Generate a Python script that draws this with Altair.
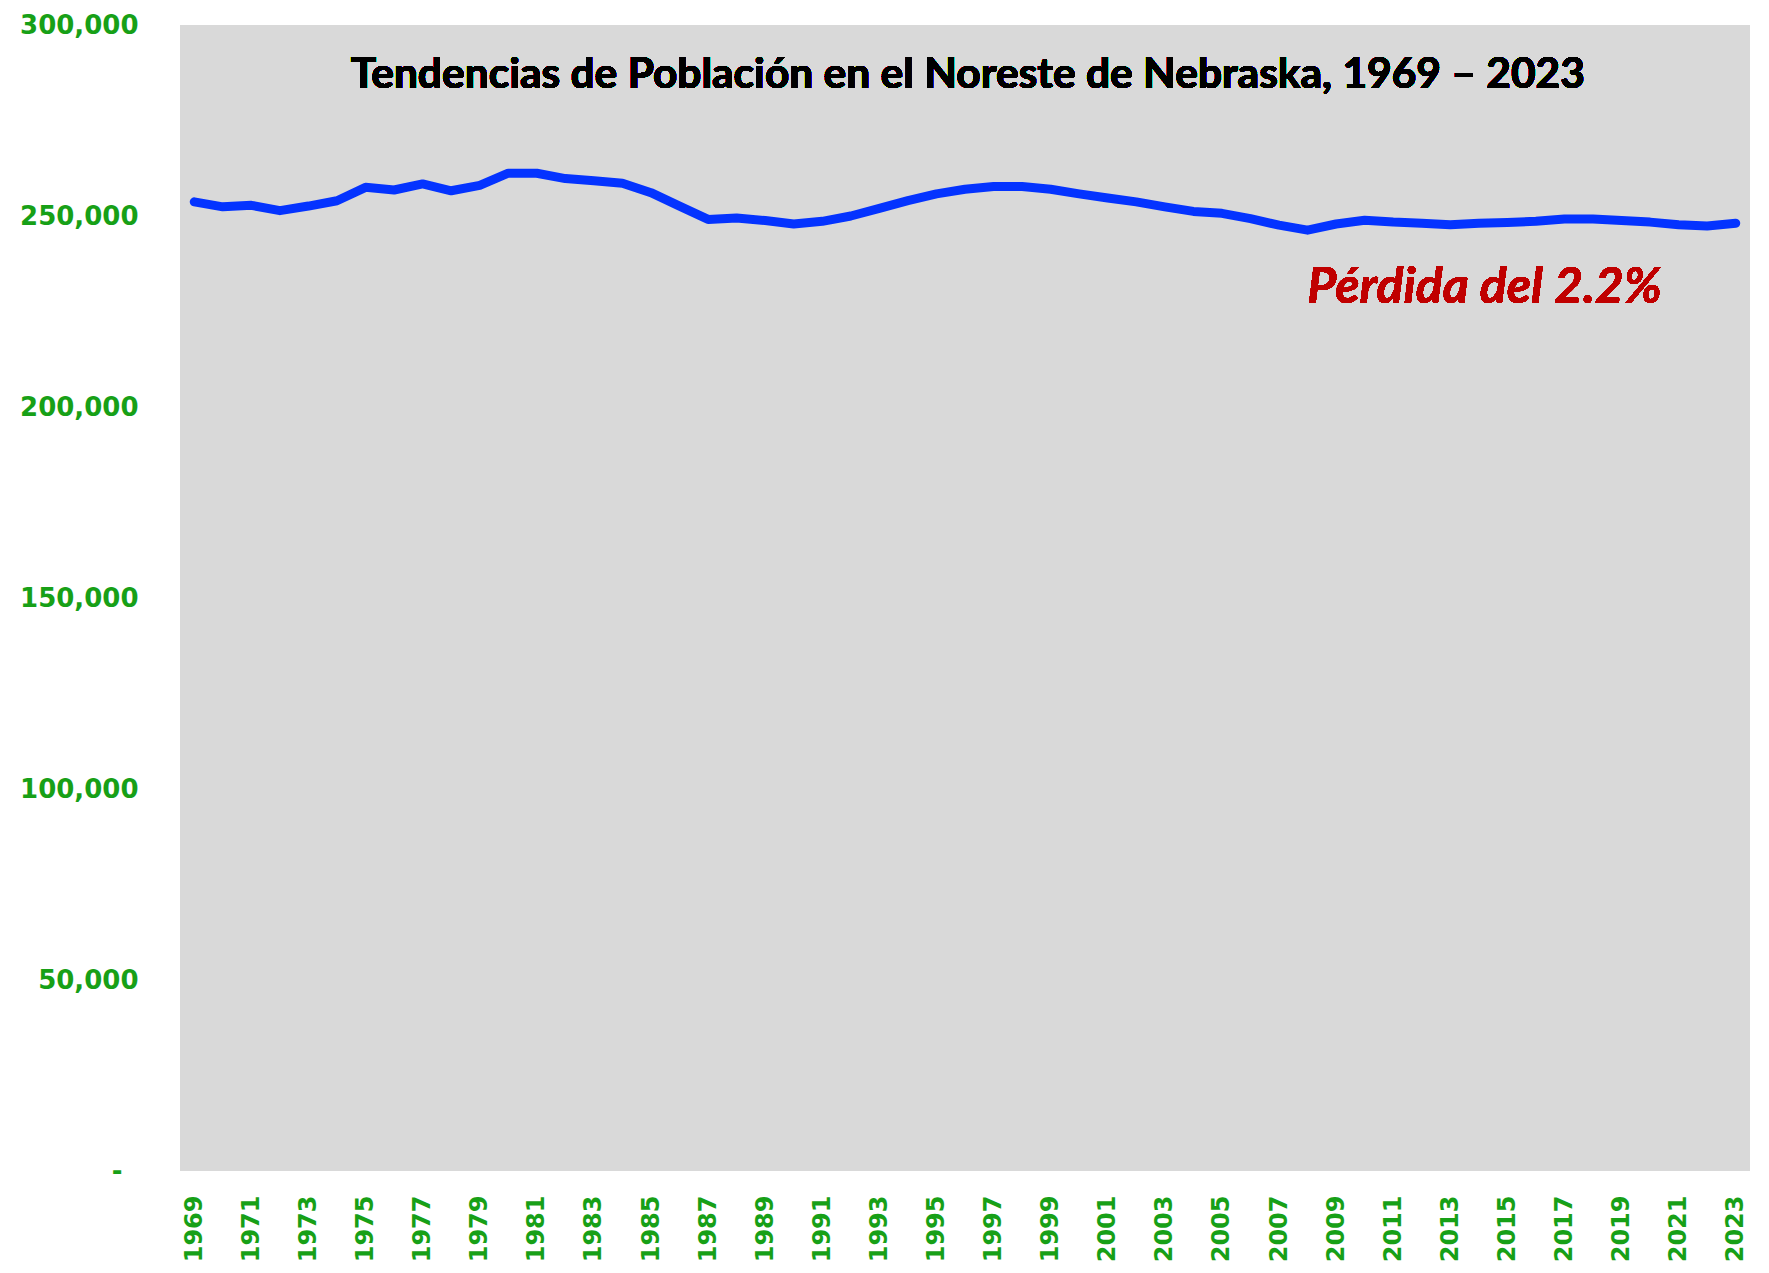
import altair as alt
import pandas as pd

years = [1969, 1970, 1971, 1972, 1973, 1974, 1975, 1976, 1977, 1978,
         1979, 1980, 1981, 1982, 1983, 1984, 1985, 1986, 1987, 1988,
         1989, 1990, 1991, 1992, 1993, 1994, 1995, 1996, 1997, 1998,
         1999, 2000, 2001, 2002, 2003, 2004, 2005, 2006, 2007, 2008,
         2009, 2010, 2011, 2012, 2013, 2014, 2015, 2016, 2017, 2018,
         2019, 2020, 2021, 2022, 2023]
population = [253700, 252400, 252800, 251400, 252600, 254000, 257500, 256800, 258400, 256600,
              258000, 261200, 261200, 259800, 259200, 258600, 256100, 252600, 249100, 249500,
              248800, 247900, 248600, 250000, 252000, 254000, 255800, 257000, 257700, 257700,
              257000, 255800, 254700, 253700, 252400, 251200, 250700, 249300, 247600, 246300,
              247900, 248900, 248400, 248100, 247700, 248100, 248300, 248600, 249200, 249200,
              248800, 248400, 247700, 247400, 248100]

x_tick_years = [1969, 1971, 1973, 1975, 1977, 1979, 1981, 1983, 1985, 1987,
                1989, 1991, 1993, 1995, 1997, 1999, 2001, 2003, 2005, 2007,
                2009, 2011, 2013, 2015, 2017, 2019, 2021, 2023]
y_ticks = [0, 50000, 100000, 150000, 200000, 250000, 300000]

title_text = "Tendencias de Población en el Noreste de Nebraska, 1969 – 2023"
note_text = "Pérdida del 2.2%"

df = pd.DataFrame({"year": years, "pop": population})

GREEN = "#17a017"

x_enc = alt.X("year:Q",
              scale=alt.Scale(domain=[1968.5, 2023.5], nice=False, zero=False),
              axis=alt.Axis(values=x_tick_years, format="d", title=None,
                            labelAngle=-90, labelAlign="right", labelBaseline="middle",
                            labelFont="DejaVu Sans", labelFontWeight="bold",
                            labelFontSize=24, labelColor=GREEN,
                            labelPadding=24, ticks=False, tickSize=0, domain=False,
                            grid=False, labelFlush=False, labelOverlap=False))
y_enc = alt.Y("pop:Q",
              scale=alt.Scale(domain=[0, 300000], nice=False, zero=True),
              axis=alt.Axis(values=y_ticks, title=None,
                            labelExpr="datum.value == 0 ? '-' : format(datum.value, ',')",
                            labelFont="DejaVu Sans", labelFontWeight="bold",
                            labelFontSize=26, labelColor=GREEN,
                            labelPadding={"condition": {"test": "datum.value == 0", "value": 58},
                                          "value": 42},
                            ticks=False, tickSize=0, domain=False,
                            grid=False, labelFlush=False, labelOverlap=False))

line = alt.Chart(df).mark_line(color="#0433FF", strokeWidth=9,
                               strokeCap="round", strokeJoin="round").encode(x=x_enc, y=y_enc)

title = alt.Chart(df).mark_text(text=title_text, font="Lato", fontWeight="bold",
                                fontSize=42.5, color="#000000", align="center",
                                baseline="alphabetic").encode(
    x=alt.datum(1996.1), y=alt.datum(283500))

note = alt.Chart(df).mark_text(text=note_text, font="Lato", fontWeight="bold",
                               fontStyle="italic", fontSize=50, color="#C00000",
                               align="center", baseline="alphabetic").encode(
    x=alt.datum(2014.2), y=alt.datum(227300))

chart = alt.layer(line, title, note).properties(
    width=1570, height=1146,
    padding={"left": 172, "top": 17, "right": 10, "bottom": 93},
    autosize=alt.AutoSizeParams(type="none"),
    background="#FFFFFF",
).configure_view(fill="#D9D9D9", stroke=None)

chart.save("out.html", embed_options={"renderer": "svg", "actions": False})
